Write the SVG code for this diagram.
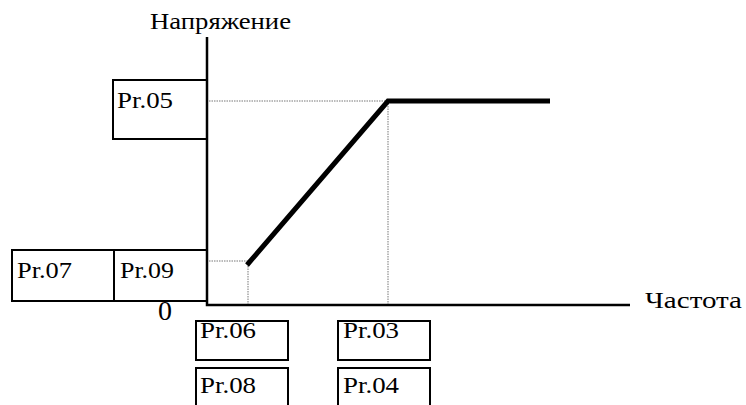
<svg xmlns="http://www.w3.org/2000/svg" width="746" height="405" viewBox="0 0 746 405">
<style>
text{font-family:'Liberation Serif','Times New Roman',Times,serif;fill:#000;font-size:24px}
.zero{font-size:28px}
.box{fill:none;stroke:#000;stroke-width:2}
.axis{stroke:#000;stroke-width:2.5;fill:none}
.dot{stroke:#777;stroke-width:1;stroke-dasharray:1.5 1;fill:none}
.curve{stroke:#000;stroke-width:5;fill:none;stroke-linejoin:miter}
</style>
<rect width="746" height="405" fill="#fff"/>
<g id="connectors">
<line class="dot" x1="209" y1="101" x2="388" y2="101"/>
<line class="dot" x1="388" y1="101" x2="388" y2="305"/>
<line class="dot" x1="209" y1="261" x2="248" y2="261"/>
<line class="dot" x1="248" y1="261" x2="248" y2="305"/>
<polyline class="curve" points="247,265 388,101 550,101"/>
<polyline class="axis" points="207,37 207,305 630,305"/>
</g>
<g id="label-voltage"><text x="150" y="29" textLength="141" lengthAdjust="spacingAndGlyphs">Напряжение</text></g>
<g id="label-freq"><text x="645" y="308" textLength="97" lengthAdjust="spacingAndGlyphs">Частота</text></g>
<g id="label-zero"><text class="zero" x="158" y="320">0</text></g>
<g id="pr05"><rect class="box" x="113" y="80" width="94" height="59"/><text x="117" y="108" textLength="56" lengthAdjust="spacingAndGlyphs">Pr.05</text></g>
<g id="pr07"><rect class="box" x="12" y="250" width="102" height="51"/><text x="17" y="278" textLength="55" lengthAdjust="spacingAndGlyphs">Pr.07</text></g>
<g id="pr09"><rect class="box" x="114" y="250" width="93" height="51"/><text x="120" y="278" textLength="54" lengthAdjust="spacingAndGlyphs">Pr.09</text></g>
<g id="pr06"><rect class="box" x="196" y="321" width="92" height="39"/><text x="200" y="338" textLength="56" lengthAdjust="spacingAndGlyphs">Pr.06</text></g>
<g id="pr08"><rect class="box" x="196" y="368" width="92" height="40"/><text x="200" y="393" textLength="56" lengthAdjust="spacingAndGlyphs">Pr.08</text></g>
<g id="pr03"><rect class="box" x="338" y="321" width="92" height="39"/><text x="343" y="338" textLength="56" lengthAdjust="spacingAndGlyphs">Pr.03</text></g>
<g id="pr04"><rect class="box" x="338" y="368" width="92" height="40"/><text x="343" y="393" textLength="56" lengthAdjust="spacingAndGlyphs">Pr.04</text></g>
</svg>
